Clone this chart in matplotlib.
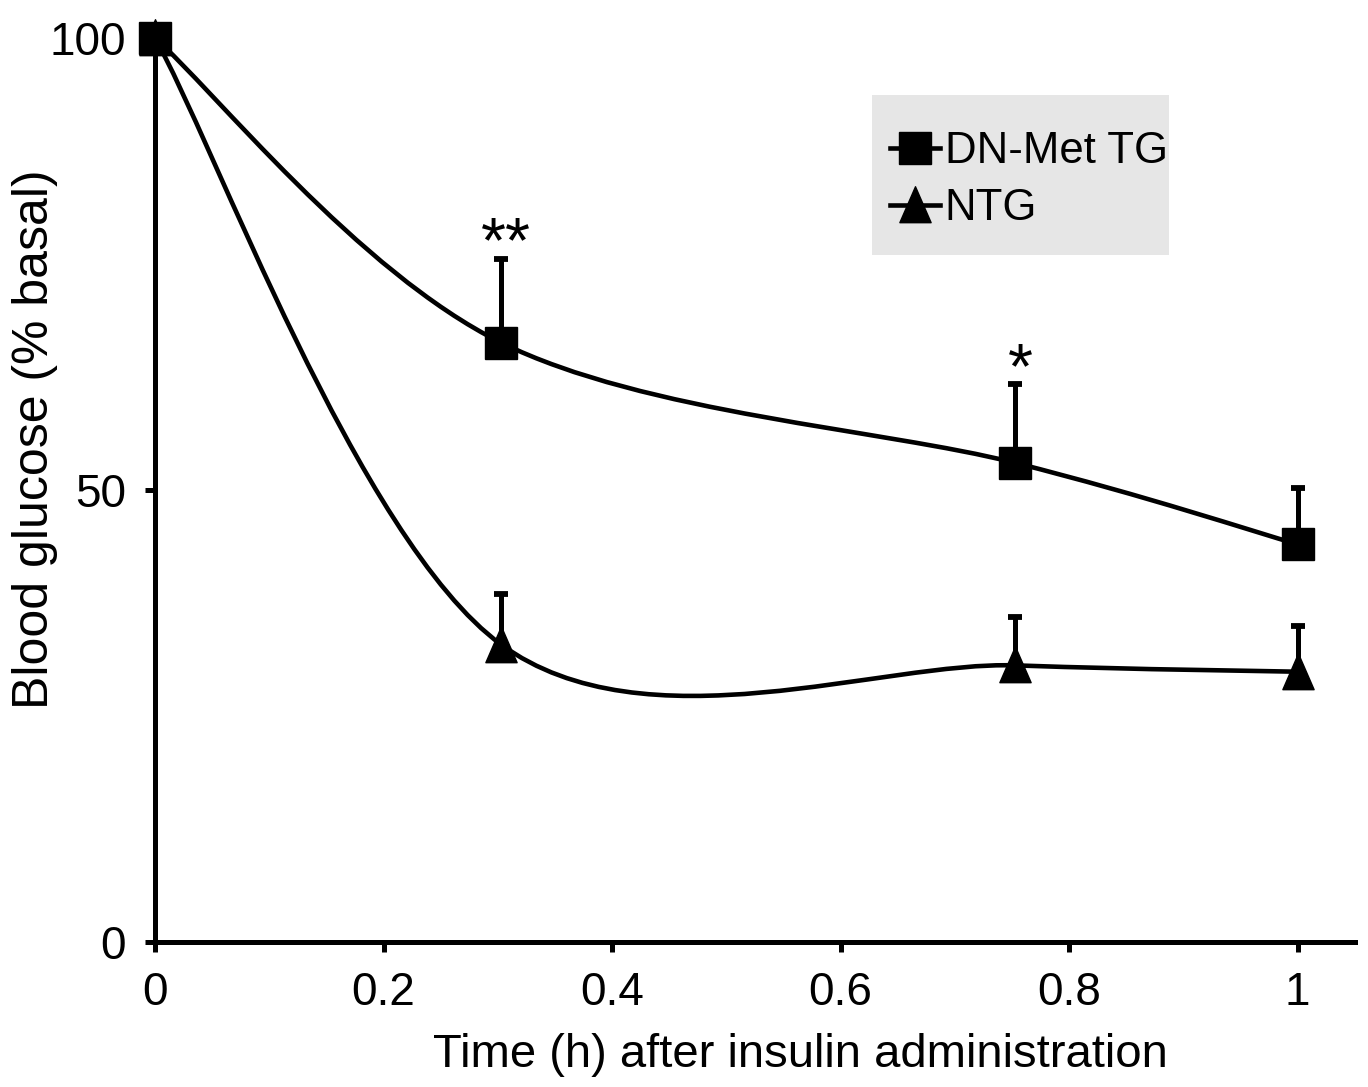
import numpy as np
import matplotlib
matplotlib.use('Agg')
import matplotlib.pyplot as plt
from matplotlib.path import Path
from matplotlib.patches import PathPatch, Rectangle

plt.rcParams['font.family'] = ['Liberation Sans', 'DejaVu Sans']

# 데이터
TIME = [0, 0.303, 0.753, 1.0]
TG_MEAN = [100, 66.3, 53.0, 44.0]
TG_ERR = [0, 9.3, 8.7, 6.2]
NTG_MEAN = [100, 32.9, 30.6, 29.9]
NTG_ERR = [0, 5.6, 5.4, 5.1]
STARS = ['', '**', '*', '']

XTICKS = [0, 0.2, 0.4, 0.6, 0.8, 1.0]
XTICK_LABELS = ['0', '0.2', '0.4', '0.6', '0.8', '1']
YTICKS = [0, 50, 100]

LW = 3.3


def smooth_path(xs, ys):
    # Excel 식 부드러운 선 — Catmull-Rom 을 베지어로 변환
    pts = np.column_stack([xs, ys]).astype(float)
    ext = np.vstack([pts[0], pts, pts[-1]])
    verts = [pts[0]]
    codes = [Path.MOVETO]
    for i in range(len(pts) - 1):
        p0, p1, p2, p3 = ext[i], ext[i + 1], ext[i + 2], ext[i + 3]
        c1 = p1 + (p2 - p0) / 6
        c2 = p2 - (p3 - p1) / 6
        verts += [c1, c2, p2]
        codes += [Path.CURVE4] * 3
    return Path(verts, codes)


# 세로로 약간 긴 삼각형 마커
tri = Path([(-0.5, -0.55), (0.5, -0.55), (0, 0.6), (-0.5, -0.55)],
           [Path.MOVETO, Path.LINETO, Path.LINETO, Path.CLOSEPOLY])

fig = plt.figure(figsize=(13.68, 10.87), dpi=100)
ax = fig.add_axes([0.1133, 0.1334, 0.877, 0.8316])

for ys in (TG_MEAN, NTG_MEAN):
    ax.add_patch(PathPatch(smooth_path(TIME, ys), facecolor='none',
                           edgecolor='black', lw=LW, zorder=2, clip_on=False))

for ys, err, mk, ms in ((TG_MEAN, TG_ERR, 's', 23), (NTG_MEAN, NTG_ERR, tri, 27)):
    ax.errorbar(TIME[1:], ys[1:], yerr=[np.zeros(3), err[1:]], fmt='none',
                ecolor='black', elinewidth=3.6, capsize=4.8, capthick=4.2, zorder=3)
    ax.plot(TIME, ys, linestyle='none', marker=mk, markersize=ms,
            color='black', zorder=4, clip_on=False)

for x, y, e, s in zip(TIME, TG_MEAN, TG_ERR, STARS):
    if s:
        ax.text(x + 0.004, y + e - 0.4, s, ha='center', va='baseline', fontsize=46)

# 범례 (회색 박스는 따로 그림)
ax.add_patch(Rectangle((0.598, 0.76), 0.2475, 0.177, transform=ax.transAxes,
                       facecolor='#e6e6e6', edgecolor='none', zorder=1))
ax.plot([], [], color='black', lw=LW, marker='s', markersize=23, label='DN-Met TG')
ax.plot([], [], color='black', lw=LW, marker=tri, markersize=27, label='NTG')
handles, labels = ax.get_legend_handles_labels()
ax.legend(handles[-2:], labels[-2:], loc='upper left',
          bbox_to_anchor=(0.6125, 0.897), fontsize=31.5, frameon=False,
          handlelength=1.14, handletextpad=0.11, labelspacing=0.36,
          borderpad=0, borderaxespad=0)

ax.set_xlim(0, 1.05)
ax.set_ylim(0, 100)
ax.set_xticks(XTICKS)
ax.set_xticklabels(XTICK_LABELS)
ax.set_yticks(YTICKS)
ax.spines['top'].set_visible(False)
ax.spines['right'].set_visible(False)
for sp in ('left', 'bottom'):
    ax.spines[sp].set_linewidth(3.6)
ax.tick_params(direction='out', length=7, width=3.6, labelsize=33, pad=14)

fig.text(0.585, 0.0294, 'Time (h) after insulin administration',
         ha='center', va='center', fontsize=34)
fig.text(0.0256, 0.596, 'Blood glucose (% basal)', rotation=90,
         ha='center', va='center', fontsize=36)

fig.savefig('out.png', dpi=100)
